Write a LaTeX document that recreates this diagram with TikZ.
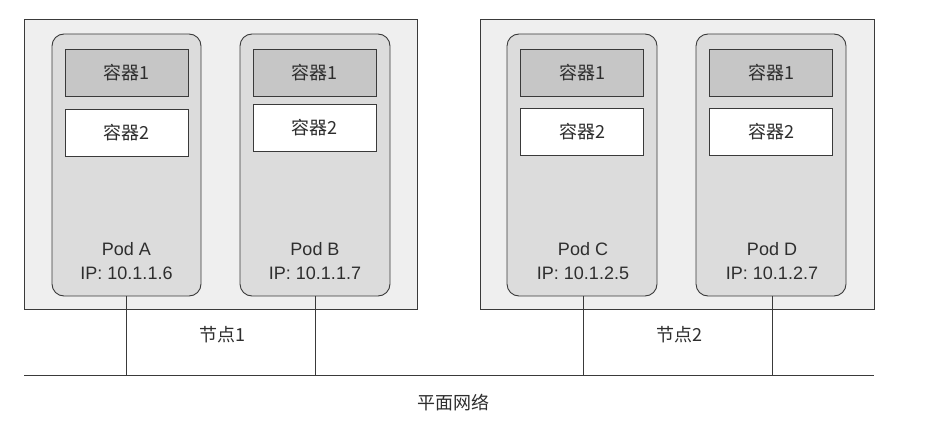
\documentclass[tikz,border=0pt]{standalone}
\usepackage{fontspec}
\setmainfont{Liberation Sans}
\newfontfamily\cjk{Noto Sans CJK SC}
\definecolor{nodefill}{HTML}{EFEFEF}
\definecolor{podfill}{HTML}{DCDCDC}
\definecolor{c1fill}{HTML}{C6C6C6}
\definecolor{linec}{HTML}{3A3A3A}
\definecolor{txt}{HTML}{2E2E2E}
\begin{document}
\begin{tikzpicture}[x=1pt,y=-1pt,
  hostbox/.style={draw=linec, line width=0.9pt, fill=nodefill},
  podbox/.style={draw=linec, line width=0.9pt, fill=podfill, rounded corners=12pt},
  cone/.style={draw=linec, line width=0.9pt, fill=c1fill, minimum width=123pt, minimum height=47pt, inner sep=0pt, text=txt, font=\cjk\fontsize{18}{21}\selectfont},
  ctwo/.style={draw=linec, line width=0.9pt, fill=white, minimum width=123pt, minimum height=47pt, inner sep=0pt, text=txt, font=\cjk\fontsize{18}{21}\selectfont},
  label/.style={text=txt, align=center, font=\fontsize{18}{24}\selectfont, inner sep=0pt},
  cjklabel/.style={text=txt, font=\cjk\fontsize{18}{21}\selectfont, inner sep=0pt},
  wire/.style={draw=linec, line width=0.9pt}]
\useasboundingbox (0,0) rectangle (939,425);
% hosts
\draw[hostbox] (24,19) rectangle (417,309);
\draw[hostbox] (480,19) rectangle (874,309);
% pods
\draw[podbox] (52,34) rectangle (201,296);
\draw[podbox] (240,34) rectangle (390,296);
\draw[podbox] (507,34) rectangle (657,296);
\draw[podbox] (696,34) rectangle (846,296);
\coordinate (pa) at (126.5,296);
\coordinate (pb) at (315,296);
\coordinate (pc) at (583,296);
\coordinate (pd) at (772,296);
% containers
\node[cone] (a1) at (126.5,72.5) {容器1};
\node[ctwo] (a2) at (126.5,132.5) {容器2};
\node[cone] (b1) at (314.5,72.5) {容器1};
\node[ctwo] (b2) at (314.5,127.5) {容器2};
\node[cone] (c1) at (582,72.5) {容器1};
\node[ctwo] (c2) at (582,132) {容器2};
\node[cone] (d1) at (771,72.5) {容器1};
\node[ctwo] (d2) at (771,132) {容器2};
% pod labels
\node[label] (la) at (126.5,261) {Pod A\\IP: 10.1.1.6};
\node[label] (lb) at (315,261) {Pod B\\IP: 10.1.1.7};
\node[label] (lc) at (583,261) {Pod C\\IP: 10.1.2.5};
\node[label] (ld) at (772,261) {Pod D\\IP: 10.1.2.7};
% host labels
\node[cjklabel] (n1) at (222,335) {节点1};
\node[cjklabel] (n2) at (679,335) {节点2};
% network
\coordinate (netl) at (24,375);
\coordinate (netr) at (874,375);
\draw[wire] (netl) -- (netr);
\coordinate (qa) at (126.5,375);
\coordinate (qb) at (315,375);
\coordinate (qc) at (583,375);
\coordinate (qd) at (772,375);
\draw[wire] (pa) -- (qa);
\draw[wire] (pb) -- (qb);
\draw[wire] (pc) -- (qc);
\draw[wire] (pd) -- (qd);
\node[cjklabel] (net) at (453,403) {平面网络};
\end{tikzpicture}
\end{document}
